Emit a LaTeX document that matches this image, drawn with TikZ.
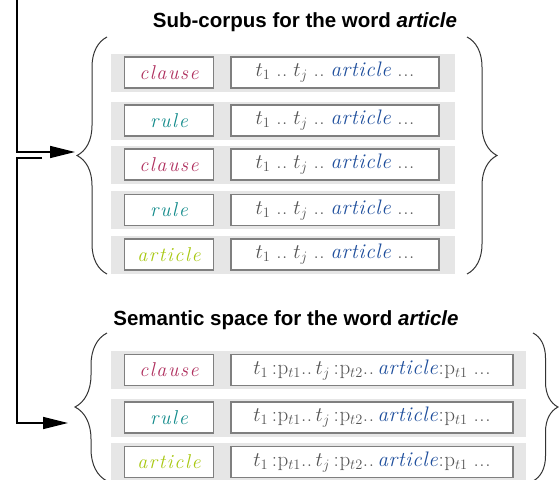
\documentclass[tikz,border=0pt]{standalone}
\usepackage{fontspec}
\usepackage{tikz}
\usetikzlibrary{arrows.meta,decorations.pathreplacing}
\setmainfont{Latin Modern Roman}
\newfontfamily\headfont{Liberation Sans}
\newfontfamily\wordfont[LetterSpace=8]{Latin Modern Roman}
\newfontfamily\ctxfont[LetterSpace=3]{Latin Modern Roman}
\definecolor{clausecol}{HTML}{B0305F}
\definecolor{rulecol}{HTML}{108A8A}
\definecolor{artcol}{HTML}{A8C810}
\definecolor{artblue}{HTML}{1E4E9C}
\definecolor{tgray}{HTML}{555555}
\definecolor{bandgray}{HTML}{E6E6E6}
\definecolor{boxgray}{HTML}{7F7F7F}
\tikzset{
  band/.style={fill=bandgray, minimum height=38pt, inner sep=0pt},
  wordbox/.style={draw=boxgray, line width=1.5pt, fill=white, minimum width=89pt,
    minimum height=31pt, inner sep=0pt, font=\wordfont\itshape\fontsize{20}{21}\selectfont},
  ctxbox/.style={draw=boxgray, line width=1.5pt, fill=white, minimum height=31pt,
    inner sep=0pt, text=tgray, font=\ctxfont\fontsize{21}{22}\selectfont},
  heading/.style={font=\headfont\bfseries\fontsize{20.5}{22}\selectfont},
  bracket/.style={decorate, decoration={brace, amplitude=#1}, line width=1pt, draw=black!80},
  feed/.style={line width=1.5pt, -{Triangle[length=25pt,width=12pt]}}
}
\begin{document}
\begin{tikzpicture}[x=1pt,y=-1pt]
    \useasboundingbox (0,0) rectangle (559,479);
    \clip (0,0) rectangle (559,479);
    % sub-corpus block
    \node[heading] (subtitle) at (305,22) {Sub-corpus for the word \textit{article}};
    \foreach \y/\w/\c [count=\i] in {72.5/clause/clausecol, 120.5/rule/rulecol,
        164.5/clause/clausecol, 210/rule/rulecol, 254.5/article/artcol} {
        \node[band, minimum width=344pt] (srow\i) at (283,\y) {};
        \node[wordbox, text=\c] (sword\i) at (169,\y) {\w};
        \node[ctxbox, minimum width=208pt] (sctx\i) at (335,\y)
            {$t_1$\;..\;$t_j$\;..\;\textcolor{artblue}{\textit{article}}\;...};
    }
    \draw[bracket=30] (107,274) -- (107,37);
    \draw[bracket=30] (467,37) -- (467,274);
    % semantic space block
    \node[heading] (semtitle) at (286,320) {Semantic space for the word \textit{article}};
    \foreach \y/\w/\c [count=\i] in {370/clause/clausecol, 417.5/rule/rulecol, 462/article/artcol} {
        \node[band, minimum width=415pt] (mrow\i) at (318.5,\y) {};
        \node[wordbox, text=\c] (mword\i) at (169,\y) {\w};
        \node[ctxbox, minimum width=282pt] (mctx\i) at (372,\y)
            {$t_1$\,:p$_{t1}$..\,$t_j$\,:p$_{t2}$..\,\textcolor{artblue}{\textit{article}}:p$_{t1}$\;...};
    }
    \draw[bracket=32] (107,481) -- (107,333);
    \draw[bracket=25] (533,333) -- (533,481);
    % feeding arrows
    \coordinate (top) at (17,0);
    \coordinate (subtip) at (75,152);
    \coordinate (stub) at (42,158);
    \coordinate (bend) at (17,158);
    \coordinate (semtip) at (68,423);
    \draw[feed] (top) |- (subtip);
    \draw[feed] (stub) -- (bend) |- (semtip);
\end{tikzpicture}
\end{document}
